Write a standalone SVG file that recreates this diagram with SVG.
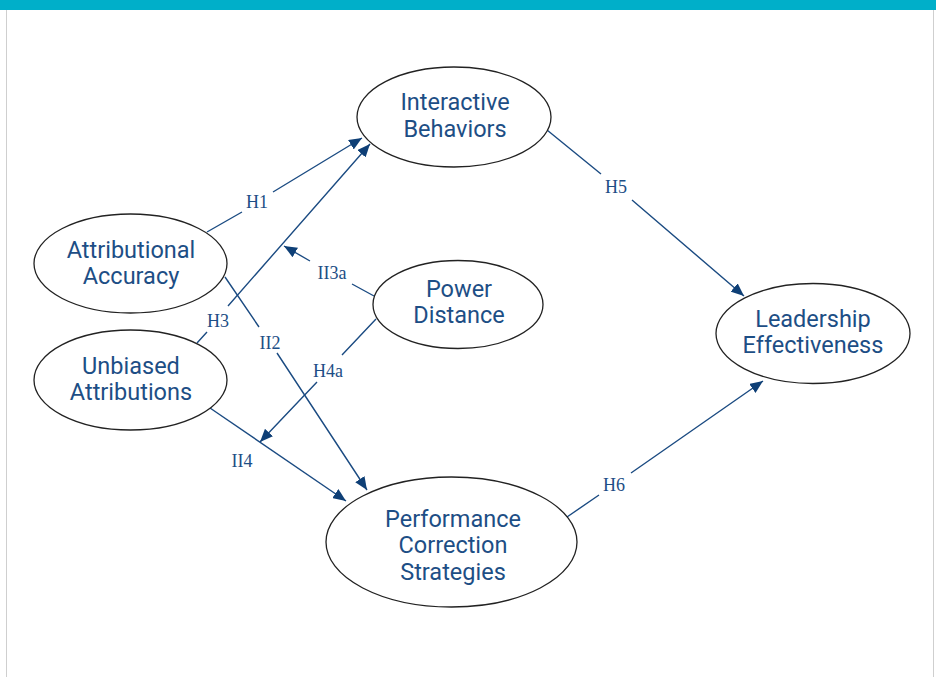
<svg xmlns="http://www.w3.org/2000/svg" width="936" height="677" viewBox="0 0 936 677">
<defs>
<marker id="arr" markerUnits="userSpaceOnUse" markerWidth="13" markerHeight="11" refX="13" refY="5.5" orient="auto">
<path d="M0,0 L13,5.5 L0,11 z" fill="#0e3f76"/>
</marker>
<style>
.node ellipse{fill:#fff;stroke:#222;stroke-width:1.3}
.node text{font-family:Roboto,"Liberation Sans",sans-serif;font-size:23.5px;fill:#1d4e85;text-anchor:middle}
.conn path{fill:none;stroke:#1b4b82;stroke-width:1.4;marker-end:url(#arr)}
.lbl{font-family:"Liberation Serif","Times New Roman",serif;font-size:18px;fill:#1d4e85;text-anchor:middle}
</style>
</defs>
<rect x="0" y="0" width="936" height="677" fill="#fff"/>
<rect x="0" y="0" width="936" height="10" fill="#00afc9"/>
<line x1="6.5" y1="10" x2="6.5" y2="677" stroke="#cfcfcf" stroke-width="1"/>
<line x1="933.5" y1="10" x2="933.5" y2="677" stroke="#cfcfcf" stroke-width="1"/>

<g class="conn" id="connectors">
<path d="M207,232 L242,212 M273,192 L362,138"/>
<path d="M197,343 L207,332 M228,306 L370,144"/>
<path d="M225,277 L259,327 M277,353 L367,490"/>
<path d="M374,296 L352,284 M310,261 L284,246"/>
<path d="M376,319 L342,355 M317,382 L260,442"/>
<path d="M210,408 L346,501"/>
<path d="M547,130 L601,174 M632,200 L744,296"/>
<path d="M567,517 L599,495 M631,473 L763,381"/>
</g>
<g id="labels">
<text class="lbl" x="257" y="208">H1</text>
<text class="lbl" x="218" y="327">H3</text>
<text class="lbl" x="270" y="349">II2</text>
<text class="lbl" x="332" y="279">II3a</text>
<text class="lbl" x="328" y="377">H4a</text>
<text class="lbl" x="242" y="467">II4</text>
<text class="lbl" x="616" y="193">H5</text>
<text class="lbl" x="614" y="491">H6</text>
</g>

<g class="node" id="interactive-behaviors">
<ellipse cx="454" cy="117" rx="97" ry="50"/>
<text x="455" y="110">Interactive</text>
<text x="455" y="137">Behaviors</text>
</g>
<g class="node" id="attributional-accuracy">
<ellipse cx="130.5" cy="263.5" rx="96.5" ry="49.5"/>
<text x="131" y="258">Attributional</text>
<text x="131" y="284">Accuracy</text>
</g>
<g class="node" id="unbiased-attributions">
<ellipse cx="130.5" cy="380" rx="96.5" ry="50"/>
<text x="131" y="374">Unbiased</text>
<text x="131" y="400">Attributions</text>
</g>
<g class="node" id="power-distance">
<ellipse cx="458" cy="304.5" rx="85" ry="44"/>
<text x="459" y="297">Power</text>
<text x="459" y="323">Distance</text>
</g>
<g class="node" id="leadership-effectiveness">
<ellipse cx="813" cy="333.5" rx="97" ry="50"/>
<text x="813" y="327">Leadership</text>
<text x="813" y="353">Effectiveness</text>
</g>
<g class="node" id="performance-correction-strategies">
<ellipse cx="451.5" cy="542" rx="125.5" ry="65"/>
<text x="453" y="527">Performance</text>
<text x="453" y="553">Correction</text>
<text x="453" y="580">Strategies</text>
</g>
</svg>
